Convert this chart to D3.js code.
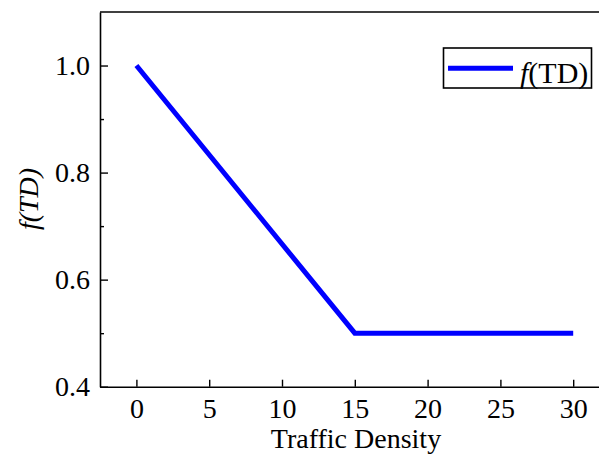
<!DOCTYPE html>
<html>
<head>
<meta charset="utf-8">
<script src="https://cdn.jsdelivr.net/npm/d3@7"></script>
<style>
  html, body { margin: 0; padding: 0; background: #fff; overflow: hidden; }
  text { font-family: "Liberation Serif", "Times New Roman", serif; }
</style>
</head>
<body>
<svg id="chart" width="599" height="459"></svg>
<script>
// Data
const trafficDensity = [0, 15, 30];
const fValues = [1.0, 0.5, 0.5];
const xTicks = [0, 5, 10, 15, 20, 25, 30];
const yTicks = [0.4, 0.6, 0.8, 1.0];
const yMinorTicks = [0.5, 0.7, 0.9];
const seriesName = "TD";

(function () {
const svg = d3.select("#chart");
const mLeft = 100, mRight = 609.6, mTop = 12, mBottom = 386.7;
const fontSize = 28;

const x = d3.scaleLinear().domain([-2.5, 32.5]).range([mLeft, mRight]);
const y = d3.scaleLinear().domain([0.4, 1.1]).range([mBottom, mTop]);

// top / right border
svg.append("line").attr("x1", mLeft).attr("x2", mRight + 5).attr("y1", mTop).attr("y2", mTop)
  .attr("stroke", "#000").attr("stroke-width", 1.6);
svg.append("line").attr("x1", mRight).attr("x2", mRight).attr("y1", mTop).attr("y2", mBottom)
  .attr("stroke", "#000").attr("stroke-width", 1.6);

// x axis
const gx = svg.append("g").attr("transform", `translate(0,${mBottom})`)
  .call(d3.axisBottom(x).tickValues(xTicks).tickSize(-7).tickSizeOuter(0).tickPadding(11).tickFormat(d3.format("d")));
// y axis
const gy = svg.append("g").attr("transform", `translate(${mLeft},0)`)
  .call(d3.axisLeft(y).tickValues(yTicks).tickSize(-8).tickSizeOuter(0).tickPadding(10).tickFormat(d3.format(".1f")));
const gym = svg.append("g").attr("transform", `translate(${mLeft},0)`)
  .call(d3.axisLeft(y).tickValues(yMinorTicks).tickSize(-4).tickSizeOuter(0).tickFormat(""));
gym.select(".domain").remove();

[gx, gy, gym].forEach(g => {
  g.selectAll(".domain").attr("stroke", "#000").attr("stroke-width", 1.6);
  g.selectAll(".tick line").attr("stroke", "#000").attr("stroke-width", 1.4);
  g.selectAll(".tick text").attr("fill", "#000").style("font-size", fontSize + "px")
    .style("font-family", "'Liberation Serif', serif");
});

// line
const line = d3.line().x((d, i) => x(trafficDensity[i])).y(d => y(d));
svg.append("path").datum(fValues).attr("d", line)
  .attr("fill", "none").attr("stroke", "#0000ff").attr("stroke-width", 5)
  .attr("stroke-linejoin", "miter");

// axis titles
svg.append("text").attr("x", 356).attr("y", 448).attr("text-anchor", "middle")
  .style("font-size", fontSize + "px").text("Traffic Density");

const yt = svg.append("text").attr("transform", "translate(38,199) rotate(-90)")
  .attr("text-anchor", "middle").style("font-size", fontSize + "px").style("font-style", "italic");
yt.append("tspan").text("f");
yt.append("tspan").text("(" + seriesName + ")");

// legend
const lg = svg.append("g");
lg.append("rect").attr("x", 443.5).attr("y", 48).attr("width", 148).attr("height", 40)
  .attr("fill", "#fff").attr("stroke", "#000").attr("stroke-width", 1.6);
lg.append("line").attr("x1", 448).attr("x2", 513).attr("y1", 68.3).attr("y2", 68.3)
  .attr("stroke", "#0000ff").attr("stroke-width", 5);
const lt = lg.append("text").attr("x", 520).attr("y", 82.5).style("font-size", "30px");
lt.append("tspan").style("font-style", "italic").text("f");
lt.append("tspan").text("(" + seriesName + ")");
})();
</script>
</body>
</html>
